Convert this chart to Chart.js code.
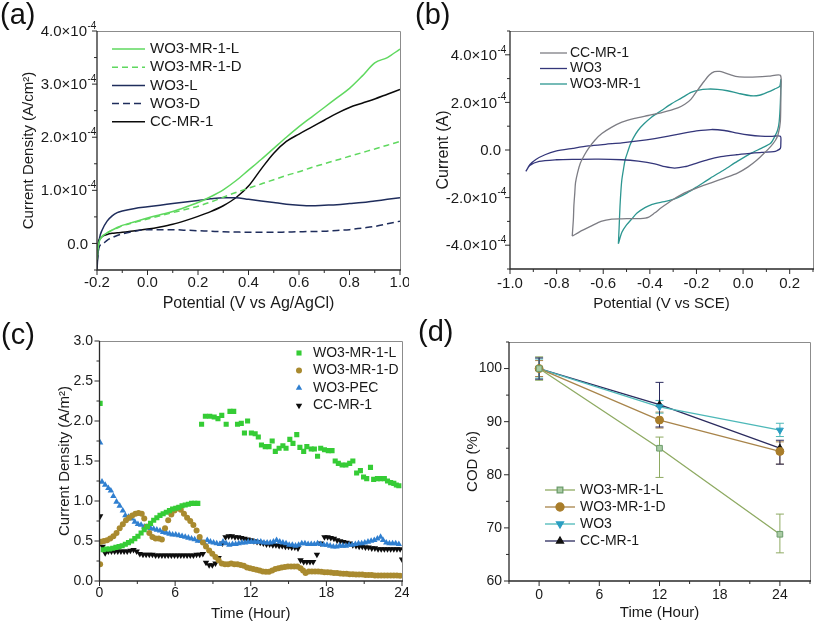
<!DOCTYPE html>
<html><head><meta charset="utf-8">
<script src="https://cdn.jsdelivr.net/npm/chart.js@4.4.1/dist/chart.umd.min.js"></script>
<style>
body{margin:0;background:#fff;}
#wrap{position:relative;width:817px;height:626px;background:#fff;overflow:hidden}
canvas{position:absolute}
.lab{position:absolute;font-family:"Liberation Sans",Arial,sans-serif;font-size:29px;color:#111;line-height:1}
</style></head><body>
<div id="wrap">
<canvas id="ca" width="409" height="313" style="left:0;top:0"></canvas>
<canvas id="cb" width="408" height="313" style="left:409px;top:0"></canvas>
<canvas id="cc" width="409" height="313" style="left:0;top:313px"></canvas>
<canvas id="cd" width="408" height="313" style="left:409px;top:313px"></canvas>
<div class="lab" style="left:0px;top:0px">(a)</div>
<div class="lab" style="left:415px;top:0px">(b)</div>
<div class="lab" style="left:1px;top:320px">(c)</div>
<div class="lab" style="left:418px;top:317px">(d)</div>
</div>
<script>
// ---------- (a) LSV, current density in units of 1e-4 A/cm2 ----------
const xA   = [-0.2,-0.195,-0.19,-0.18,-0.16,-0.14,-0.12,-0.1,-0.05,0,0.05,0.1,0.15,0.2,0.25,0.3,0.35,0.4,0.45,0.5,0.55,0.6,0.65,0.7,0.75,0.8,0.85,0.9,0.95,1.0];
const aMRL = [-0.3,-0.05,0.05,0.13,0.20,0.25,0.30,0.34,0.41,0.48,0.54,0.60,0.68,0.77,0.88,1.01,1.18,1.38,1.58,1.79,2.00,2.20,2.38,2.56,2.74,2.92,3.15,3.40,3.50,3.66];
const aMRD = [-0.3,-0.05,0.05,0.13,0.20,0.25,0.29,0.33,0.40,0.46,0.52,0.58,0.64,0.70,0.78,0.87,0.96,1.04,1.12,1.20,1.28,1.35,1.43,1.50,1.57,1.64,1.71,1.78,1.85,1.92];
const aWL  = [-0.5,-0.1,0.1,0.25,0.42,0.52,0.58,0.61,0.66,0.69,0.72,0.75,0.78,0.81,0.84,0.86,0.86,0.83,0.80,0.77,0.74,0.72,0.71,0.72,0.73,0.75,0.77,0.80,0.83,0.86];
const aWD  = [-0.35,-0.15,-0.05,-0.02,0.06,0.11,0.15,0.18,0.23,0.26,0.26,0.26,0.25,0.24,0.23,0.22,0.215,0.21,0.21,0.21,0.215,0.22,0.225,0.23,0.245,0.26,0.29,0.32,0.37,0.42];
const aCC  = [-0.45,0.0,0.08,0.13,0.17,0.19,0.20,0.21,0.24,0.27,0.31,0.36,0.43,0.51,0.60,0.71,0.86,1.08,1.40,1.70,1.92,2.06,2.19,2.32,2.45,2.56,2.64,2.72,2.81,2.90];
const aXTicks = [-0.2,0.0,0.2,0.4,0.6,0.8,1.0];
const aYTicks = [0,1,2,3,4];

// ---------- (b) CV loops [potential V, current 1e-4 A] ----------
const bCC = [[-0.733,-3.62],[-0.728,-2.9],[-0.726,-2.35],[-0.722,-1.8],[-0.719,-1.38],[-0.710,-0.95],[-0.698,-0.55],[-0.680,-0.20],[-0.663,0.07],[-0.635,0.42],[-0.606,0.69],[-0.565,0.95],[-0.520,1.17],[-0.465,1.33],[-0.407,1.45],[-0.345,1.58],[-0.280,1.77],[-0.250,1.92],[-0.223,2.14],[-0.195,2.52],[-0.166,2.90],[-0.145,3.15],[-0.123,3.29],[-0.100,3.30],[-0.081,3.25],[-0.050,3.15],[-0.024,3.08],[0.020,3.06],[0.061,3.07],[0.110,3.10],[0.160,3.14],[0.162,2.5],[0.160,1.2],[0.150,0.65],[0.139,0.41],[0.118,0.14],[0.090,-0.14],[0.061,-0.41],[0.020,-0.72],[-0.024,-0.97],[-0.080,-1.18],[-0.137,-1.38],[-0.195,-1.58],[-0.251,-1.80],[-0.300,-2.08],[-0.350,-2.42],[-0.380,-2.65],[-0.407,-2.83],[-0.440,-2.88],[-0.478,-2.88],[-0.520,-2.89],[-0.563,-2.90],[-0.610,-3.00],[-0.648,-3.18],[-0.690,-3.38],[-0.733,-3.62]];
const bWO3 = [[-0.932,-0.90],[-0.915,-0.62],[-0.889,-0.40],[-0.850,-0.20],[-0.804,-0.05],[-0.730,0.07],[-0.663,0.17],[-0.590,0.24],[-0.520,0.30],[-0.450,0.38],[-0.379,0.48],[-0.320,0.58],[-0.265,0.69],[-0.200,0.80],[-0.137,0.86],[-0.080,0.82],[-0.024,0.71],[0.025,0.63],[0.075,0.58],[0.120,0.57],[0.160,0.58],[0.162,0.3],[0.160,0.07],[0.145,-0.03],[0.132,-0.07],[0.080,-0.10],[0.033,-0.14],[-0.030,-0.20],[-0.095,-0.28],[-0.150,-0.40],[-0.209,-0.58],[-0.250,-0.70],[-0.294,-0.76],[-0.335,-0.70],[-0.379,-0.58],[-0.450,-0.47],[-0.520,-0.41],[-0.620,-0.38],[-0.733,-0.39],[-0.800,-0.41],[-0.875,-0.48],[-0.915,-0.65],[-0.932,-0.90]];
const bMR = [[-0.535,-3.94],[-0.532,-3.3],[-0.528,-2.35],[-0.524,-1.7],[-0.520,-1.24],[-0.513,-0.8],[-0.506,-0.41],[-0.495,-0.08],[-0.485,0.21],[-0.470,0.52],[-0.450,0.83],[-0.425,1.10],[-0.393,1.38],[-0.350,1.66],[-0.308,1.94],[-0.265,2.18],[-0.223,2.42],[-0.190,2.52],[-0.152,2.56],[-0.110,2.55],[-0.067,2.49],[-0.020,2.38],[0.033,2.28],[0.070,2.30],[0.103,2.42],[0.135,2.56],[0.157,2.67],[0.162,2.95],[0.160,2.0],[0.155,1.2],[0.148,0.83],[0.135,0.55],[0.118,0.28],[0.080,0.08],[0.033,-0.14],[-0.025,-0.48],[-0.081,-0.83],[-0.140,-1.18],[-0.194,-1.52],[-0.240,-1.80],[-0.280,-2.00],[-0.315,-2.12],[-0.350,-2.19],[-0.390,-2.28],[-0.421,-2.42],[-0.455,-2.65],[-0.478,-2.90],[-0.500,-3.15],[-0.520,-3.46],[-0.535,-3.94]];
const bXTicks = [-1.0,-0.8,-0.6,-0.4,-0.2,0.0,0.2];
const bYTicks = [-4,-2,0,2,4];

// ---------- (c) current density vs time [hour, A/m2] ----------
const cMRL = [[0.05,2.22],[0.3,0.39],[0.55,0.40],[0.8,0.40],[1.05,0.41],[1.3,0.42],[1.55,0.43],[1.8,0.44],[2.05,0.46],[2.3,0.48],[2.55,0.50],[2.8,0.53],[3.05,0.56],[3.3,0.60],[3.55,0.64],[3.8,0.68],[4.05,0.72],[4.3,0.76],[4.55,0.79],[4.8,0.82],[5.05,0.84],[5.3,0.86],[5.55,0.88],[5.8,0.90],[6.05,0.91],[6.3,0.92],[6.55,0.94],[6.8,0.95],[7.05,0.96],[7.3,0.97],[7.55,0.97],[7.8,0.97],[8.1,1.96],[8.4,2.06],[8.75,2.06],[9.1,2.05],[9.4,2.03],[9.7,2.07],[10.05,1.96],[10.35,2.12],[10.65,2.12],[10.95,1.96],[11.25,1.97],[11.5,1.85],[11.75,2.00],[12.05,1.85],[12.35,1.84],[12.6,1.80],[12.85,1.70],[13.15,1.68],[13.45,1.68],[13.7,1.75],[13.95,1.62],[14.25,1.66],[14.55,1.69],[14.8,1.66],[15.1,1.77],[15.35,1.72],[15.65,1.83],[15.9,1.67],[16.2,1.62],[16.45,1.68],[16.8,1.65],[17.05,1.65],[17.3,1.56],[17.55,1.66],[17.85,1.64],[18.15,1.63],[18.45,1.63],[18.7,1.50],[18.95,1.47],[19.25,1.45],[19.55,1.45],[19.85,1.47],[20.1,1.50],[20.4,1.35],[20.7,1.38],[20.95,1.30],[21.2,1.28],[21.5,1.42],[21.75,1.27],[22.05,1.28],[22.3,1.28],[22.6,1.28],[22.85,1.25],[23.1,1.23],[23.35,1.22],[23.55,1.20],[23.75,1.19]];
const cMRD = [[0.05,0.21],[0.12,0.49],[0.35,0.50],[0.6,0.51],[0.85,0.53],[1.1,0.56],[1.35,0.60],[1.6,0.66],[1.85,0.71],[2.1,0.76],[2.35,0.79],[2.6,0.82],[2.85,0.84],[3.1,0.85],[3.35,0.84],[3.55,0.78],[3.75,0.68],[3.95,0.60],[4.2,0.55],[4.45,0.53],[4.7,0.53],[4.95,0.52],[5.2,0.66],[5.45,0.76],[5.7,0.83],[5.95,0.88],[6.2,0.91],[6.45,0.89],[6.7,0.84],[6.95,0.79],[7.2,0.75],[7.45,0.70],[7.7,0.63],[7.95,0.55],[8.2,0.48],[8.45,0.43],[8.7,0.38],[8.95,0.34],[9.2,0.30],[9.45,0.26],[9.7,0.22],[9.95,0.21],[10.2,0.21],[10.45,0.22],[10.7,0.21],[10.95,0.21],[11.2,0.20],[11.45,0.19],[11.7,0.17],[11.95,0.16],[12.2,0.15],[12.45,0.14],[12.7,0.13],[12.95,0.12],[13.2,0.115],[13.45,0.115],[13.7,0.13],[13.95,0.15],[14.2,0.16],[14.45,0.17],[14.7,0.175],[14.95,0.18],[15.2,0.18],[15.45,0.18],[15.7,0.18],[15.95,0.16],[16.15,0.13],[16.35,0.10],[16.6,0.12],[16.85,0.12],[17.1,0.12],[17.35,0.12],[17.6,0.115],[17.85,0.11],[18.1,0.11],[18.35,0.105],[18.6,0.10],[18.85,0.10],[19.1,0.095],[19.35,0.09],[19.6,0.09],[19.85,0.085],[20.1,0.085],[20.35,0.08],[20.6,0.08],[20.85,0.08],[21.1,0.075],[21.35,0.075],[21.6,0.075],[21.85,0.07],[22.1,0.07],[22.35,0.07],[22.6,0.07],[22.85,0.07],[23.1,0.07],[23.35,0.068],[23.6,0.068],[23.85,0.065]];
const cPEC = [[0.05,1.73],[0.2,1.24],[0.45,1.20],[0.7,1.16],[0.9,1.13],[1.1,1.06],[1.35,0.99],[1.6,0.94],[1.85,0.88],[2.05,0.82],[2.3,0.80],[2.55,0.78],[2.8,0.74],[3.05,0.71],[3.3,0.70],[3.55,0.68],[3.8,0.67],[4.05,0.66],[4.3,0.65],[4.55,0.64],[4.8,0.63],[5.05,0.61],[5.3,0.60],[5.55,0.59],[5.8,0.58],[6.05,0.58],[6.3,0.57],[6.55,0.56],[6.8,0.55],[7.05,0.54],[7.3,0.53],[7.55,0.52],[7.8,0.50],[8.05,0.50],[8.3,0.48],[8.55,0.51],[8.8,0.49],[9.05,0.48],[9.3,0.47],[9.55,0.46],[9.8,0.49],[10.05,0.47],[10.3,0.45],[10.55,0.46],[10.8,0.46],[11.05,0.47],[11.3,0.48],[11.55,0.48],[11.8,0.49],[12.05,0.49],[12.3,0.49],[12.55,0.49],[12.8,0.49],[13.05,0.48],[13.3,0.48],[13.55,0.48],[13.8,0.49],[14.05,0.51],[14.3,0.49],[14.55,0.48],[14.8,0.47],[15.05,0.45],[15.3,0.45],[15.55,0.44],[15.8,0.45],[16.05,0.47],[16.3,0.47],[16.55,0.46],[16.8,0.46],[17.05,0.46],[17.3,0.47],[17.55,0.46],[17.8,0.45],[18.05,0.45],[18.3,0.44],[18.55,0.43],[18.8,0.43],[19.05,0.44],[19.3,0.44],[19.55,0.44],[19.8,0.45],[20.05,0.45],[20.3,0.46],[20.55,0.47],[20.8,0.47],[21.05,0.48],[21.3,0.49],[21.55,0.50],[21.8,0.51],[22.05,0.53],[22.3,0.55],[22.5,0.51],[22.75,0.48],[23.0,0.47],[23.25,0.47],[23.5,0.47],[23.75,0.46]];
const cCC = [[0.05,0.81],[0.25,0.43],[0.45,0.35],[0.7,0.37],[0.95,0.37],[1.2,0.37],[1.45,0.37],[1.7,0.37],[1.95,0.37],[2.2,0.37],[2.45,0.38],[2.7,0.39],[2.95,0.37],[3.2,0.34],[3.45,0.33],[3.7,0.33],[3.95,0.33],[4.2,0.33],[4.45,0.32],[4.7,0.32],[4.95,0.32],[5.2,0.32],[5.45,0.32],[5.7,0.32],[5.95,0.32],[6.2,0.32],[6.45,0.32],[6.7,0.32],[6.95,0.32],[7.2,0.32],[7.45,0.32],[7.7,0.33],[7.95,0.33],[8.2,0.34],[8.45,0.23],[8.7,0.20],[8.95,0.20],[9.2,0.22],[9.45,0.29],[9.75,0.47],[10.0,0.55],[10.25,0.56],[10.5,0.56],[10.75,0.55],[11.0,0.55],[11.25,0.54],[11.5,0.53],[11.75,0.52],[12.0,0.51],[12.25,0.50],[12.5,0.49],[12.75,0.48],[13.0,0.47],[13.25,0.46],[13.5,0.46],[13.75,0.45],[14.0,0.45],[14.25,0.44],[14.5,0.44],[14.75,0.43],[15.0,0.43],[15.25,0.42],[15.5,0.42],[15.75,0.41],[15.95,0.26],[16.2,0.24],[16.45,0.24],[16.7,0.24],[16.95,0.24],[17.25,0.33],[17.55,0.47],[17.85,0.55],[18.1,0.55],[18.35,0.54],[18.6,0.53],[18.85,0.51],[19.1,0.50],[19.35,0.49],[19.6,0.48],[19.85,0.47],[20.1,0.45],[20.35,0.44],[20.6,0.43],[20.85,0.43],[21.1,0.42],[21.35,0.42],[21.6,0.41],[21.85,0.41],[22.1,0.40],[22.35,0.40],[22.6,0.40],[22.85,0.40],[23.1,0.40],[23.35,0.40],[23.6,0.40],[23.85,0.40],[24.0,0.27]];
const cXTicks = [0,6,12,18,24];
const cYTicks = [0,0.5,1.0,1.5,2.0,2.5,3.0];

// ---------- (d) COD removal ----------
const dTime = [0,12,24];
const dMRL = [100,85.0,68.8], dMRLup = [2.2,2.1,3.8], dMRLdn = [2.2,5.5,3.5];
const dMRD = [100,90.3,84.4], dMRDup = [1.5,1.5,1.8], dMRDdn = [1.5,1.5,2.4];
const dWO3 = [100,92.8,88.4], dWO3up = [1.8,1.2,1.3], dWO3dn = [1.8,1.2,1.2];
const dCC  = [100,93.2,85.0], dCCup  = [2.0,4.2,1.5], dCCdn  = [2.0,4.2,3.0];
const dXTicks = [0,6,12,18,24];
const dYTicks = [60,70,80,90,100];

// ---------- helpers ----------
const FONT = '"Liberation Sans", Arial, sans-serif';
Chart.defaults.font.family = FONT;
Chart.defaults.color = '#1a1a1a';
const TXT = '#1a1a1a';

const framePlugin = {
  id:'frame',
  afterDraw(chart, args, o){
    const {ctx, chartArea:{left:L,right:R,top:T,bottom:B}} = chart;
    const xs = chart.scales.x, ys = chart.scales.y;
    ctx.save();
    ctx.lineWidth = 1; ctx.strokeStyle = '#8c8c8c';
    ctx.beginPath(); ctx.moveTo(L,T+0.5); ctx.lineTo(R+0.5,T+0.5); ctx.lineTo(R+0.5,B); ctx.stroke();
    ctx.strokeStyle = '#2a2a2a'; ctx.lineWidth = 1.3;
    ctx.beginPath(); ctx.moveTo(L,T); ctx.lineTo(L,B); ctx.lineTo(R+1,B); ctx.stroke();
    ctx.lineWidth = 1;
    ctx.beginPath();
    const xt=(v,n)=>{const p=xs.getPixelForValue(v); ctx.moveTo(p,B); ctx.lineTo(p,B+n);};
    const yt=(v,n)=>{const p=ys.getPixelForValue(v); ctx.moveTo(L,p); ctx.lineTo(L-n,p);};
    xs.ticks.forEach(t=>xt(t.value,5)); (o.xMinor||[]).forEach(v=>xt(v,3));
    ys.ticks.forEach(t=>yt(t.value,5)); (o.yMinor||[]).forEach(v=>yt(v,3));
    ctx.stroke();
    // scientific y labels with a real superscript exponent
    if (o.sci) {
      ctx.fillStyle = TXT; ctx.textBaseline = 'middle';
      ys.ticks.forEach(t=>{
        const p = ys.getPixelForValue(t.value);
        const m = Math.round(t.value/1e-4*10)/10;
        ctx.font = o.sci.fs+'px '+FONT; ctx.textAlign = 'right';
        if (m === 0) { ctx.fillText('0.0', L-o.sci.zero, p+1); return; }
        ctx.fillText(m.toFixed(1)+'\u00d710', L-o.sci.base, p+1);
        ctx.font = o.sci.sfs+'px '+FONT; ctx.textAlign = 'left';
        ctx.fillText('-4', L-o.sci.base+0.5, p-5);
      });
    }
    ctx.restore();
  }
};
const legendPlugin = {
  id:'lg',
  afterDraw(chart, args, o){
    if(!o || !o.font) return;
    const ctx = chart.ctx; ctx.save();
    ctx.font = o.font+'px '+FONT; ctx.textBaseline='middle'; ctx.textAlign='left';
    chart.data.datasets.forEach((ds,i)=>{
      const y = o.y + i*o.dy;
      if(o.line){ ctx.strokeStyle=ds.borderColor; ctx.lineWidth=ds.borderWidth; ctx.setLineDash(ds.borderDash||[]);
        ctx.beginPath(); ctx.moveTo(o.x,y); ctx.lineTo(o.x+o.len,y); ctx.stroke(); ctx.setLineDash([]); }
      if(o.marker){ ctx.fillStyle=ds.pointBackgroundColor; ctx.strokeStyle=ds.pointBorderColor;
        Chart.helpers.drawPoint(ctx,{pointStyle:ds.pointStyle,rotation:ds.pointRotation||0,radius:ds.pointRadius,borderWidth:ds.pointBorderWidth||0},o.x+o.len/2,y); }
      ctx.fillStyle=TXT; ctx.fillText(ds.label,o.tx,y);
    });
    ctx.restore();
  }
};
const errPlugin = {
  id:'err',
  beforeDatasetsDraw(chart){
    const ctx=chart.ctx, xs=chart.scales.x, ys=chart.scales.y;
    chart.data.datasets.forEach(ds=>{
      if(!ds.errUp) return;
      ctx.save(); ctx.strokeStyle=ds.errColor||ds.borderColor; ctx.lineWidth=1;
      ds.data.forEach((p,i)=>{
        const x=xs.getPixelForValue(p.x), y1=ys.getPixelForValue(p.y+ds.errUp[i]), y2=ys.getPixelForValue(p.y-ds.errDn[i]);
        ctx.beginPath(); ctx.moveTo(x,y1); ctx.lineTo(x,y2);
        ctx.moveTo(x-4,y1); ctx.lineTo(x+4,y1); ctx.moveTo(x-4,y2); ctx.lineTo(x+4,y2); ctx.stroke();
      });
      ctx.restore();
    });
  }
};
function mkScale(o){
  return {
    type:'linear', min:o.min, max:o.max,
    afterBuildTicks:s=>{ s.ticks = o.major.map(v=>({value:v})); },
    afterFit:s=>{ if(o.w!==undefined) s.width=o.w; if(o.h!==undefined) s.height=o.h;
      s.paddingLeft=0; s.paddingRight=0; s.paddingTop=0; s.paddingBottom=0; },
    grid:{display:false, drawTicks:false, tickLength:0}, border:{display:false},
    ticks:{display:o.hideLabels?false:true, font:{size:o.fs}, color:TXT, padding:o.pad, callback:o.fmt, maxRotation:0, autoSkip:false},
    title:{display:true, text:o.title, font:{size:o.tfs}, color:TXT, padding:o.tpad}
  };
}
function mk(id, W, g, datasets, xo, yo, frame, lg){
  const H = 313;
  return new Chart(document.getElementById(id), {
    type:'scatter',
    data:{datasets},
    options:{
      responsive:false, animation:false, devicePixelRatio:1,
      layout:{padding:{left:0, top:g.T, right:W-g.R, bottom:0}},
      plugins:{legend:{display:false}, tooltip:{enabled:false}, frame, lg},
      scales:{ x:mkScale(Object.assign({h:H-g.B}, xo)), y:mkScale(Object.assign({w:g.L}, yo)) }
    },
    plugins:[errPlugin, framePlugin, legendPlugin]
  });
}
const pairs = arr => arr.map(([x,y])=>({x,y}));
const zipA = ys => xA.map((x,i)=>({x, y:ys[i]*1e-4}));
const line = (label, data, color, dash, w) => ({label, data, showLine:true, borderColor:color, borderWidth:w||1.5, borderDash:dash||[], pointRadius:0, pointHoverRadius:0, cubicInterpolationMode:'monotone', fill:false});

// ---------- (a) ----------
mk('ca', 409, {L:97,R:400,T:31,B:270}, [
  line('WO3-MR-1-L', zipA(aMRL), '#5fd85f'),
  line('WO3-MR-1-D', zipA(aMRD), '#5fd85f', [6,4]),
  line('WO3-L', zipA(aWL), '#1f2d5c'),
  line('WO3-D', zipA(aWD), '#1f2d5c', [7,4]),
  line('CC-MR-1', zipA(aCC), '#0a0a0a')
], {min:-0.2, max:1.0, major:aXTicks, fs:15, pad:3.5, fmt:v=>v.toFixed(1), title:'Potential (V vs Ag/AgCl)', tfs:16, tpad:{top:0,bottom:0}},
   {min:-0.5e-4, max:4e-4, major:aYTicks.map(v=>v*1e-4), hideLabels:true, fs:15, pad:2, title:'Current Density (A/cm\u00b2)', tfs:15, tpad:{top:20,bottom:0}},
   {xMinor:[-0.1,0.1,0.3,0.5,0.7,0.9], yMinor:[-0.5e-4,0.5e-4,1.5e-4,2.5e-4,3.5e-4], sci:{fs:15, sfs:10, base:10, zero:9}},
   {font:15, x:112, len:33, tx:150, y:49, dy:18.2, line:true});

// ---------- (b) ----------
const cv = (label, arr, color) => ({label, data:pairs(arr).map(p=>({x:p.x,y:p.y*1e-4})), showLine:true, borderColor:color, borderWidth:1.3, pointRadius:0, pointHoverRadius:0, tension:0.25, fill:false});
mk('cb', 408, {L:101,R:404,T:31,B:269}, [
  cv('CC-MR-1', bCC, '#7d7d84'),
  cv('WO3', bWO3, '#34367a'),
  cv('WO3-MR-1', bMR, '#2c9690')
], {min:-1.0, max:0.3, major:bXTicks, fs:15, pad:6, fmt:v=>v.toFixed(1), title:'Potential (V vs SCE)', tfs:15, tpad:{top:0,bottom:0}},
   {min:-5e-4, max:5e-4, major:bYTicks.map(v=>v*1e-4), hideLabels:true, fs:15, pad:2, title:'Current (A)', tfs:16, tpad:{top:25.4,bottom:0}},
   {xMinor:[-0.9,-0.7,-0.5,-0.3,-0.1,0.1,0.3], yMinor:[-5e-4,-3e-4,-1e-4,1e-4,3e-4,5e-4], sci:{fs:15, sfs:10, base:13, zero:9}},
   {font:14, x:131, len:27, tx:161, y:53, dy:15.5, line:true});

// ---------- (c) ----------
const sc = (label, arr, color, style, r, rot) => ({label, data:pairs(arr), showLine:false, pointStyle:style, pointRadius:r, pointRotation:rot||0, pointBackgroundColor:color, pointBorderColor:color, pointBorderWidth:0, borderColor:color, backgroundColor:color});
mk('cc', 409, {L:99.5,R:402,T:28,B:268}, [
  sc('WO3-MR-1-L', cMRL, '#35cc35', 'rect', 3.6),
  sc('WO3-MR-1-D', cMRD, '#a98a2f', 'circle', 3.0),
  sc('WO3-PEC', cPEC, '#2f7fd0', 'triangle', 3.7),
  sc('CC-MR-1', cCC, '#0d0d0d', 'triangle', 3.7, 180)
], {min:0, max:24, major:cXTicks, fs:14, pad:3.6, fmt:v=>String(v), title:'Time (Hour)', tfs:15, tpad:{top:0,bottom:3}},
   {min:0, max:3.0, major:cYTicks, fs:14, pad:6.5, fmt:v=>v.toFixed(1), title:'Current Density (A/m\u00b2)', tfs:15, tpad:{top:55.5,bottom:0}},
   {xMinor:[3,9,15,21], yMinor:[0.25,0.75,1.25,1.75,2.25,2.75]},
   {font:14, x:299, len:0, tx:313, y:40, dy:17.5, marker:true});

// ---------- (d) ----------
const cod = (label, vals, up, dn, color, ptColor, ptBorder, style, rot) => ({label, data:dTime.map((t,i)=>({x:t,y:vals[i]})), errUp:up, errDn:dn, errColor:color, showLine:true, borderColor:color, borderWidth:1.3, pointStyle:style, pointRotation:rot||0, pointRadius:4, pointBackgroundColor:ptColor, pointBorderColor:ptBorder, pointBorderWidth:1, tension:0, fill:false});
mk('cd', 408, {L:100,R:401,T:29,B:268}, [
  cod('WO3-MR-1-L', dMRL, dMRLup, dMRLdn, '#8eaa62', '#a9cba4', '#6c9c6c', 'rect'),
  cod('WO3-MR-1-D', dMRD, dMRDup, dMRDdn, '#a8844a', '#a97d2a', '#a97d2a', 'circle'),
  cod('WO3', dWO3, dWO3up, dWO3dn, '#4db8b8', '#2b9ec2', '#2b9ec2', 'triangle', 180),
  cod('CC-MR-1', dCC, dCCup, dCCdn, '#2b2b5e', '#111111', '#111111', 'triangle')
], {min:-3, max:27, major:dXTicks, fs:14, pad:5.6, fmt:v=>String(v), title:'Time (Hour)', tfs:15, tpad:{top:0,bottom:4.5}},
   {min:60, max:105, major:dYTicks, fs:14, pad:7, fmt:v=>String(v), title:'COD (%)', tfs:15, tpad:{top:54.7,bottom:0}},
   {xMinor:[-3,3,9,15,21,27], yMinor:[65,75,85,95,105]},
   {font:14, x:136, len:30, tx:171, y:177, dy:17, line:true, marker:true});
</script>
</body></html>
